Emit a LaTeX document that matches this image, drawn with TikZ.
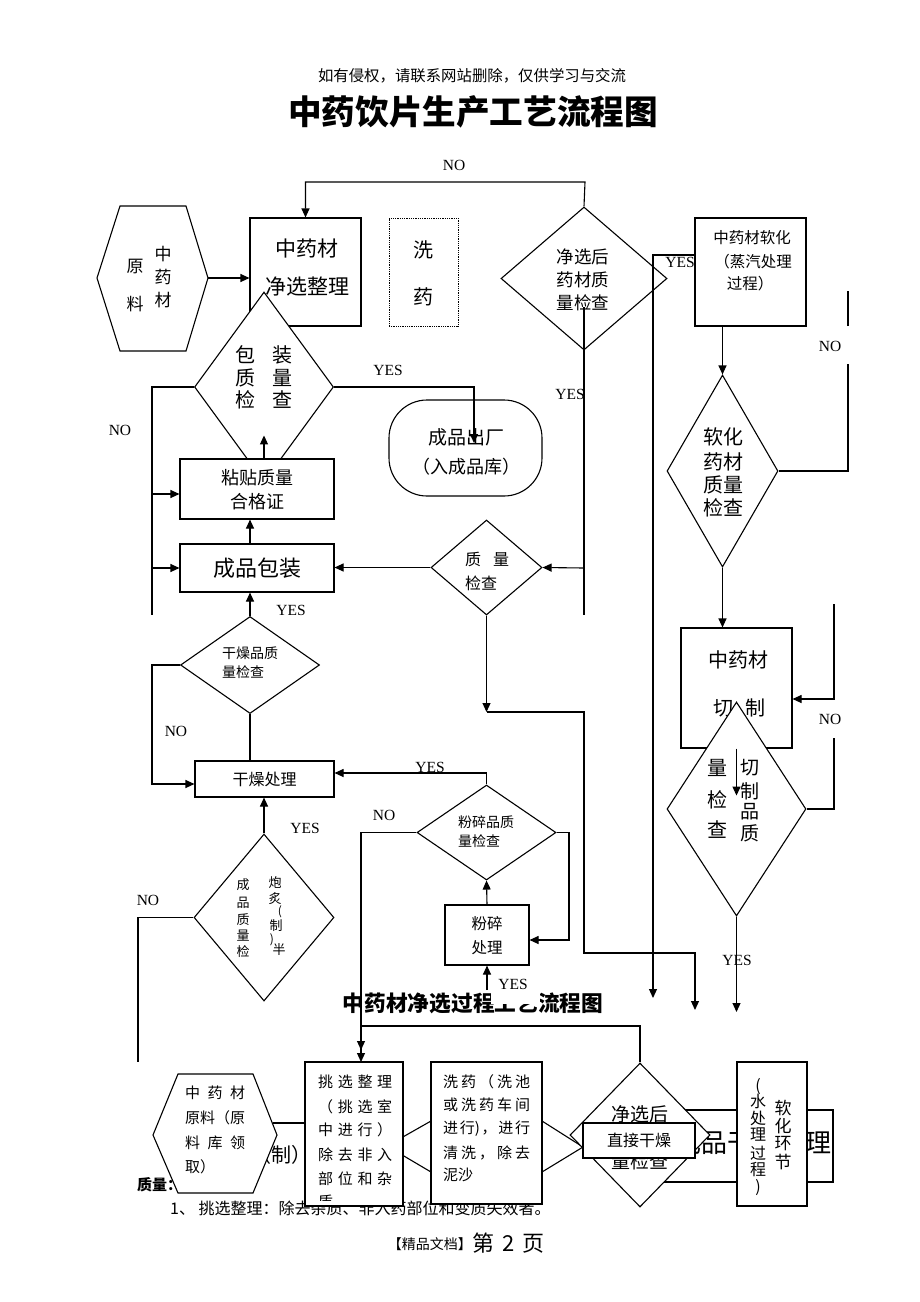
\documentclass[tikz,border=0pt]{standalone}
\usepackage{fontspec}
\setmainfont{Liberation Serif}
\newfontfamily\cjk{Noto Sans CJK SC}
\usetikzlibrary{shapes.geometric,arrows.meta}
\begin{document}
\begin{tikzpicture}[x=1pt,y=-1pt,
  ln/.style={line width=1.1pt},
  arr/.style={line width=1.1pt,-{Triangle[length=9pt,width=8pt]}},
  box/.style={draw,line width=1.1pt,fill=white,inner sep=0,rectangle},
  dia/.style={draw,line width=1.1pt,diamond,inner sep=0},
  t/.style={font=\cjk\fontsize{#1}{#1}\selectfont,inner sep=0},
  lab/.style={font=\fontsize{15.5}{15.5}\selectfont,inner sep=0.5pt},
]
\fill[white] (0,0) rectangle (920,1302);
\useasboundingbox (0,0) rectangle (920,1302);

% header
\node[t=15.4] (hdr) at (472,76) {如有侵权，请联系网站删除，仅供学习与交流};
\node[font=\cjk\bfseries\fontsize{33.6}{34}\selectfont,inner sep=0] (title) at (473,112) {中药饮片生产工艺流程图};

% raw material hexagon
\draw[ln,fill=white] (97,278) -- (120,206) -- (186,206) -- (208,278) -- (186,351) -- (120,351) -- cycle;
\coordinate (hex1r) at (208,278);
\foreach \c/\yy in {中/254,药/277,材/300} \node[t=17] at (163,\yy) {\c};
\node[t=17] at (135,266) {原};
\node[t=17] at (135,304) {料};

% box 1
\node[box,minimum width=111pt,minimum height=108pt] (b1) at (305.5,272) {};
\node[t=21] at (307,249) {中药材};
\node[t=21] at (307,287) {净选整理};

% dotted box
\node[draw,densely dotted,line width=0.8pt,minimum width=69pt,minimum height=108pt,inner sep=0] (b2) at (423.5,272) {};
\node[t=20] at (423,250) {洗};
\node[t=20] at (423,297) {药};

% diamond 1
\node[dia,minimum width=166pt,minimum height=143pt] (d1) at (584,278.5) {};
\node[t=17.5] at (583,257) {净选后};
\node[t=17.5] at (583,280) {药材质};
\node[t=17.5] at (583,303) {量检查};

% softening box
\node[lab] at (680,262) {YES};
\node[box,minimum width=111pt,minimum height=108pt] (b3) at (750.5,272) {};
\node[t=15.5] at (752,238) {中药材软化};
\node[t=15.5] at (753,262) {（蒸汽处理};
\node[t=15.5] at (750,284) {过程）};

% diamond 2
\node[dia,minimum width=111pt,minimum height=192pt] (d2) at (722.5,471) {};
\node[t=20] at (723,437) {软化};
\node[t=20] at (723,462) {药材};
\node[t=20] at (723,485) {质量};
\node[t=20] at (723,508) {检查};

% cutting box and diamond
\node[box,minimum width=111pt,minimum height=120pt] (b4) at (736.5,688) {};
\node[t=20] at (738,660) {中药材};
\node[t=20] at (723,708) {切};
\node[t=20] at (755,708) {制};
\node[dia,fill=white,minimum width=139pt,minimum height=214pt] (d3) at (736.5,809) {};
\foreach \c/\yy in {量/768,检/800,查/830} \node[t=20] at (717,\yy) {\c};
\foreach \c/\yy in {切/768,制/791,品/812,质/833} \node[t=19] at (750,\yy) {\c};

% packaging check diamond
\node[dia,fill=white,minimum width=139pt,minimum height=190pt] (d4) at (264,387) {};
\node[t=20] at (245,355) {包};
\node[t=20] at (282,355) {装};
\node[t=20] at (245,378) {质};
\node[t=20] at (282,378) {量};
\node[t=20] at (245,400) {检};
\node[t=20] at (282,400) {查};

% boxes left
\node[box,minimum width=154pt,minimum height=60pt] (b5) at (257,489) {};
\node[t=18] at (257,478) {粘贴质量};
\node[t=18] at (257,502) {合格证};
\node[box,minimum width=154pt,minimum height=48pt] (b6) at (257,568) {};
\node[t=22] at (257,568) {成品包装};

% oval
\node[box,rounded corners=38pt,minimum width=153pt,minimum height=96pt] (ov) at (465.5,448) {};
\node[t=19] at (466,437) {成品出厂};
\node[t=18] at (466,467) {（入成品库）};

% quality check diamond
\node[dia,minimum width=111pt,minimum height=95pt] (d5) at (486.5,567.5) {};
\node[t=16,anchor=west] at (465,559) {质\hspace{12pt}量};
\node[t=16,anchor=west] at (465,583) {检查};

% dried product check
\node[dia,minimum width=139pt,minimum height=97pt] (d6) at (250,665) {};
\node[t=14,anchor=west] at (222,653) {干燥品质};
\node[t=14,anchor=west] at (222,672) {量检查};

\node[box,minimum width=139pt,minimum height=36pt] (b7) at (264.5,779) {};
\node[t=16] at (264.5,779) {干燥处理};

% semi-product diamond
\node[dia,fill=white,minimum width=140pt,minimum height=167pt] (d7) at (264,917.5) {};
\foreach \c/\yy in {成/885,品/903,质/920,量/936,检/951} \node[t=13] at (243,\yy) {\c};
\node[t=13] at (275,883) {炮};
\node[t=13] at (275,899) {炙};
\node[t=12] at (280,912) {(};
\node[t=13] at (276,926) {制};
\node[t=12] at (272,940) {)};
\node[t=13] at (279,950) {半};

% grinding
\node[dia,minimum width=139pt,minimum height=95pt] (d8) at (486.5,832.5) {};
\node[t=14,anchor=west] at (458,822) {粉碎品质};
\node[t=14,anchor=west] at (458,841) {量检查};
\node[box,minimum width=84pt,minimum height=60pt] (b8) at (487,935) {};
\node[t=15.5] at (487,924) {粉碎};
\node[t=15.5] at (487,948) {处理};

% second title
\node[font=\cjk\bfseries\fontsize{21.7}{22}\selectfont,inner sep=0] (title2) at (473,1003) {中药材净选过程工艺流程图};
\fill[white] (491,975) rectangle (540,1004);
\node[lab] at (513,984) {YES};

% lower section texts underneath
\node[t=20] at (281,1155) {（制）};
\node[font=\cjk\bfseries\fontsize{15}{15}\selectfont,anchor=west,inner sep=0] at (137,1185) {质量：};
\node[t=16,anchor=west] at (170,1208) {1、 挑选整理：除去杂质、非入药部位和变质失效者。};

% hidden hexagon behind boxes
\draw[ln,fill=white] (387,1146) -- (431,1121) -- (542,1121) -- (583,1147) -- (542,1172) -- (431,1172) -- cycle;

% raw material hexagon (lower)
\draw[ln,fill=white] (153,1135) -- (178,1074) -- (253,1074) -- (277,1135) -- (253,1193) -- (178,1193) -- cycle;
\node[t=15,anchor=west] at (185,1093) {\makebox[60pt][s]{中\hfill 药\hfill 材}};
\node[t=15,anchor=west] at (185,1118) {原料（原};
\node[t=15,anchor=west] at (185,1143) {\makebox[60pt][s]{料\hfill 库\hfill 领}};
\node[t=15,anchor=west] at (185,1167) {取）};

% picking box
\node[box,minimum width=98pt,minimum height=144pt] (b9) at (354,1134) {};
\node[t=15,anchor=west] at (318,1082) {\makebox[74pt][s]{挑\hfill 选\hfill 整\hfill 理}};
\node[t=15,anchor=west] at (318,1107) {\makebox[74pt][s]{（\hfill 挑\hfill 选\hfill 室}};
\node[t=15,anchor=west] at (318,1130) {\makebox[74pt][s]{中\hfill 进\hfill 行\hfill ）}};
\node[t=15,anchor=west] at (318,1155) {\makebox[74pt][s]{除\hfill 去\hfill 非\hfill 入}};
\node[t=15,anchor=west] at (318,1179) {\makebox[74pt][s]{部\hfill 位\hfill 和\hfill 杂}};
\begin{scope}
\clip (305,1062) rectangle (403,1200);
\node[t=15,anchor=west] at (318,1202) {质};
\end{scope}

% washing box
\node[box,minimum width=111pt,minimum height=142pt] (b10) at (486.5,1133) {};
\node[t=15,anchor=west] at (443,1082) {\makebox[87pt][s]{洗\hfill 药\hfill （\hfill 洗\hfill 池}};
\node[t=15,anchor=west] at (443,1105) {\makebox[87pt][s]{或\hfill 洗\hfill 药\hfill 车\hfill 间}};
\node[t=15,anchor=west] at (443,1129) {\makebox[87pt][s]{进\hfill 行)\hfill ，\hfill 进\hfill 行}};
\node[t=15,anchor=west] at (443,1153) {\makebox[87pt][s]{清\hfill 洗\hfill ，\hfill 除\hfill 去}};
\node[t=15,anchor=west] at (443,1175) {泥沙};

% dried product processing (behind)
\node[box,minimum width=173pt,minimum height=72pt] (b13) at (746.5,1146) {};
\node[t=26] at (753,1143) {成品干燥处理};

% lower diamond
\node[dia,fill=white,minimum width=140pt,minimum height=144pt] (d9) at (640,1135) {};
\node[t=19] at (640,1114) {净选后};
\node[t=19] at (640,1161) {量检查};
\node[box,minimum width=112pt,minimum height=35pt] (b11) at (639,1140.5) {};
\node[t=16] at (639,1140.5) {直接干燥};

% softening box (lower)
\node[box,minimum width=70pt,minimum height=144pt] (b12) at (772,1134) {};
\foreach \c/\yy in {{(}/1087,水/1101,处/1118,理/1135,过/1153,程/1170,{)}/1188} \node[t=16] at (758,\yy) {\c};
\foreach \c/\yy in {软/1108,化/1126,环/1144,节/1162} \node[t=17] at (783,\yy) {\c};

% footer
\node[t=14,anchor=east] at (472,1244) {【精品文档】};
\node[t=22,anchor=west] at (472,1243) {第\hspace{8pt}2\hspace{8pt}页};

% ---------------- connectors ----------------
\draw[arr] (d1.north) -- (585,182) -| (b1.north);
\node[lab] at (454,165) {NO};

\draw[arr] (hex1r) -- (hex1r -| b1.west);

\coordinate (p1) at (653,255);
\draw[arr] (b3.west |- p1) -- (p1) -- (653,998);

\draw[arr] (d2.north |- b3.south) -- (d2.north);
\draw[ln] (d2.east) -- (848,471) -- (848,364);
\draw[ln] (848,326) -- (848,291);
\node[lab] at (830,346) {NO};

\draw[arr] (d2.south) -- (d2.south |- b4.north);
\coordinate (p2) at (834,699);
\draw[arr] (834,604) -- (p2) -- (b4.east |- p2);
\draw[ln] (d3.east) -| (834,738);
\node[lab] at (830,719) {NO};
\draw[arr] (b4.south) -- ++(0,47);
\draw[arr] (d3.south) -- (736.5,1012);
\node[lab] at (737,960) {YES};

\draw[ln] (584,307) -- (584,615);
\coordinate (p3) at (584,568);
\draw[arr] (p3) -- (d5.east);
\node[lab] at (570,394) {YES};

\draw[arr] (d5.west) -- (d5.west -| b6.east);
\coordinate (p4) at (250,544);
\draw[arr] (p4) -- (p4 |- b5.south);
\draw[arr] (b5.north -| d4.south) -- ++(0,-23);

\draw[arr] (d4.east) -- (474,387) -- (474,443);
\node[lab] at (388,370) {YES};

\draw[ln] (d4.west) -- (152,387) -- (152,615);
\coordinate (p5) at (152,494);
\draw[arr] (p5) -- (p5 -| b5.west);
\coordinate (p6) at (152,568);
\draw[arr] (p6) -- (p6 -| b6.west);
\node[lab] at (120,430) {NO};

\draw[arr] (d6.north) -- (d6.north |- b6.south);
\node[lab] at (291,610) {YES};
\coordinate (p7) at (152,784);
\draw[arr] (d6.west) -- (d6.west -| p7) -- (p7) -- (p7 -| b7.west);
\node[lab] at (176,731) {NO};
\draw[ln] (d6.south) -- (d6.south |- b7.north);

\draw[arr] (d7.north) -- (d7.north |- b7.south);
\node[lab] at (305,828) {YES};
\draw[ln] (d7.west) -| (138,1062);
\node[lab] at (148,900) {NO};

\coordinate (p8) at (486.5,773);
\draw[arr] (d8.north) -- (p8) -- (p8 -| b7.east);
\node[lab] at (430,767) {YES};
\draw[arr] (d8.west) -| (361,1050);
\node[lab] at (384,815) {NO};
\coordinate (p9) at (569,940);
\draw[arr] (d8.east) -| (p9) -- (p9 -| b8.east);
\draw[arr] (b8.north) -- (d8.south);
\draw[arr] (487,990) -- (b8.south);

\coordinate (p10) at (486.5,712);
\draw[arr] (d5.south) -- (p10);
\draw[arr] (p10) -- (584,712) -- (584,953) -- (695,953) -- (695,1010);

\coordinate (p11) at (361,1026);
\coordinate (b9in) at (361,1062);
\draw[arr] (d9.north) |- (p11) -- (b9in);
\coordinate (p12) at (273,1123);
\draw[ln] (p12) -- (p12 -| b9.west);
\end{tikzpicture}
\end{document}
